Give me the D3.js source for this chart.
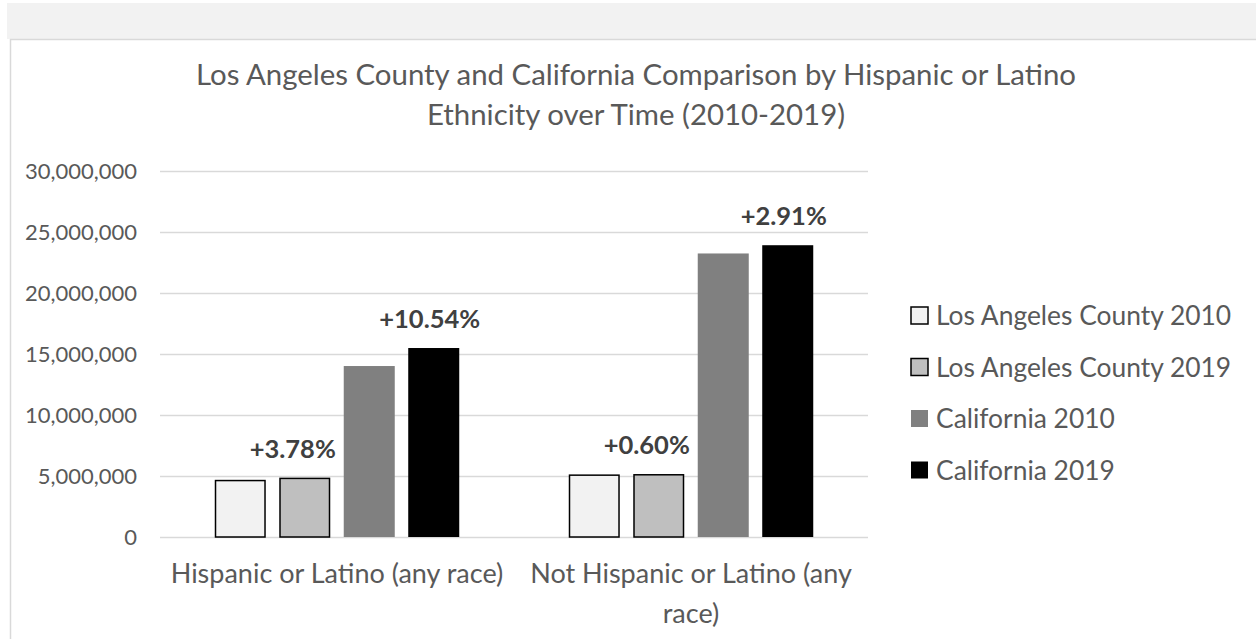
<!DOCTYPE html>
<html>
<head>
<meta charset="utf-8">
<script src="https://cdn.jsdelivr.net/npm/d3@7/dist/d3.min.js"></script>
<style>
  html, body { margin: 0; padding: 0; background: #ffffff; }
  svg { display: block; }
  text { font-family: Lato, "Open Sans", sans-serif; fill: #595959; }
</style>
</head>
<body>
<svg id="chart" width="1256" height="639"></svg>
<script>
// Population by ethnicity, Los Angeles County vs. California
const categories = ["Hispanic or Latino (any race)", "Not Hispanic or Latino (any race)"];
const seriesNames = ["Los Angeles County 2010", "Los Angeles County 2019", "California 2010", "California 2019"];
const la2010 = [4687889, 5130716];
const la2019 = [4865091, 5161500];
const ca2010 = [14013719, 23240237];
const ca2019 = [15490766, 23916528];
const changeLabels = [["+3.78%", "+10.54%"], ["+0.60%", "+2.91%"]]; // [category][LA, CA]
const yTicks = [0, 5000000, 10000000, 15000000, 20000000, 25000000, 30000000];
const titleLines = ["Los Angeles County and California Comparison by Hispanic or Latino",
                    "Ethnicity over Time (2010-2019)"];

const seriesValues = [la2010, la2019, ca2010, ca2019];
const fills = ["#f2f2f2", "#bfbfbf", "#808080", "#000000"];
const strokes = ["#000000", "#000000", "none", "none"];

const svg = d3.select("#chart");

// Frame: grey strip above the chart area and its light border
svg.append("rect").attr("x", 7).attr("y", 3).attr("width", 1249).attr("height", 36).attr("fill", "#f2f2f2");
svg.append("line").attr("x1", 10).attr("x2", 1256).attr("y1", 39.5).attr("y2", 39.5)
  .attr("stroke", "#d9d9d9").attr("stroke-width", 1.5);
svg.append("line").attr("x1", 10.5).attr("x2", 10.5).attr("y1", 39).attr("y2", 639)
  .attr("stroke", "#d9d9d9").attr("stroke-width", 1.5);

const plot = { left: 160, right: 868, top: 171, bottom: 537 };

const x0 = d3.scaleBand().domain(categories).range([plot.left, plot.right]).padding(0);
const x1 = d3.scaleBand().domain(d3.range(seriesNames.length))
  .range([0, x0.bandwidth()]).paddingInner(0.209).paddingOuter(0.849);
const y = d3.scaleLinear().domain([0, 30000000]).range([plot.bottom, plot.top]);

// Gridlines and value axis labels
const yAxis = d3.axisLeft(y).tickValues(yTicks).tickFormat(d3.format(",")).tickSize(0).tickPadding(0);
const gy = svg.append("g").attr("transform", `translate(${plot.left},0)`).call(yAxis);
gy.select(".domain").remove();
gy.selectAll(".tick line").attr("x2", plot.right - plot.left).attr("stroke", "#d9d9d9").attr("stroke-width", 1.5);
gy.selectAll(".tick text").attr("x", -23).attr("dy", "0.36em")
  .style("font-size", "22px").style("fill", "#595959").style("font-family", "Lato, sans-serif");

// Bars
const groups = svg.append("g").selectAll("g").data(categories).join("g")
  .attr("transform", d => `translate(${x0(d)},0)`);
groups.selectAll("rect")
  .data((c, ci) => seriesValues.map((vals, si) => ({ si, v: vals[ci] })))
  .join("rect")
  .attr("x", d => x1(d.si) + (strokes[d.si] !== "none" ? 0.75 : 0))
  .attr("width", d => x1.bandwidth() - (strokes[d.si] !== "none" ? 1.5 : 0))
  .attr("y", d => y(d.v) + (strokes[d.si] !== "none" ? 0.75 : 0))
  .attr("height", d => plot.bottom - y(d.v) - (strokes[d.si] !== "none" ? 0.75 : 0))
  .attr("fill", d => fills[d.si])
  .attr("stroke", d => strokes[d.si])
  .attr("stroke-width", 1.5);

// Growth labels above the 2019 bars
const labelShift = { 1: -12, 3: -4 };
categories.forEach((c, ci) => {
  [1, 3].forEach((si, k) => {
    svg.append("text")
      .attr("x", x0(c) + x1(si) + x1.bandwidth() / 2 + labelShift[si])
      .attr("y", y(seriesValues[si][ci]) - 20)
      .attr("text-anchor", "middle")
      .style("font-size", "25.5px").style("font-weight", "bold").style("fill", "#404040")
      .text(changeLabels[ci][k]);
  });
});

// Category labels, wrapped to the band width
function wrapWords(text, maxWidth, size) {
  const words = text.split(" ");
  const probe = svg.append("text").style("font-size", size + "px");
  const lines = [];
  let line = [];
  words.forEach(w => {
    const trial = line.concat([w]).join(" ");
    probe.text(trial);
    if (line.length && probe.node().getComputedTextLength() > maxWidth) {
      lines.push(line.join(" "));
      line = [w];
    } else {
      line.push(w);
    }
  });
  lines.push(line.join(" "));
  probe.remove();
  return lines;
}
categories.forEach(c => {
  const lines = wrapWords(c, x0.bandwidth() - 6, 27);
  const t = svg.append("text").attr("text-anchor", "middle").style("font-size", "27px");
  lines.forEach((ln, i) => {
    t.append("tspan").attr("x", x0(c) + x0.bandwidth() / 2).attr("y", 583 + i * 40).text(ln);
  });
});

// Title
svg.append("text").attr("text-anchor", "middle").style("font-size", "29.4px")
  .selectAll("tspan").data(titleLines).join("tspan")
  .attr("x", 636).attr("y", (d, i) => 85 + i * 40).text(d => d);

// Legend
const legend = svg.append("g").selectAll("g").data(seriesNames).join("g")
  .attr("transform", (d, i) => `translate(911,${315.5 + i * 51.5})`);
legend.append("rect")
  .attr("x", 0).attr("y", -8.5).attr("width", 17).attr("height", 17)
  .attr("fill", (d, i) => fills[i])
  .attr("stroke", (d, i) => strokes[i]).attr("stroke-width", 1.5);
legend.append("text").attr("x", 25).attr("dy", "0.36em").style("font-size", "26.4px").text(d => d);
</script>
</body>
</html>
